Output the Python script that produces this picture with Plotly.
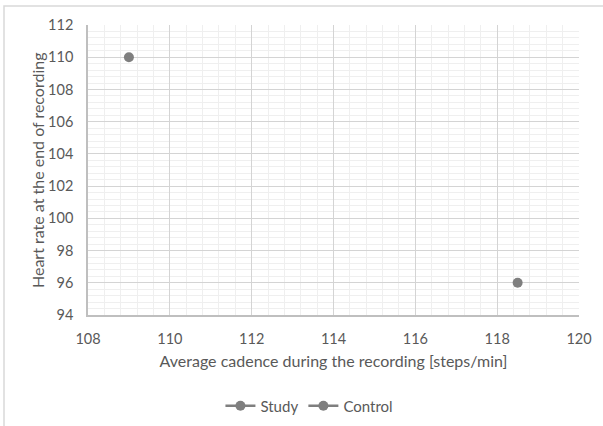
import plotly.graph_objects as go

series_names = ["Study", "Control"]
cadence = [[109.0], [118.5]]
heart_rate = [[110.0], [96.0]]
x_ticks = [108, 110, 112, 114, 116, 118, 120]
y_ticks = [94, 96, 98, 100, 102, 104, 106, 108, 110, 112]
x_title = "Average cadence during the recording [steps/min]"
y_title = "Heart rate at the end of recording"

gray = "#7f7f7f"
text_col = "#595959"
font_family = "Lato, Open Sans, sans-serif"

fig = go.Figure()
for name, xs, ys in zip(series_names, cadence, heart_rate):
    fig.add_trace(go.Scatter(
        x=xs, y=ys, name=name, mode="lines+markers",
        marker=dict(color=gray, size=10),
        line=dict(color=gray, width=2.5),
    ))

fig.update_layout(
    width=603, height=426,
    margin=dict(l=88, r=24, t=25, b=111, autoexpand=False),
    paper_bgcolor="white", plot_bgcolor="white",
    font=dict(family=font_family, size=15, color=text_col),
    showlegend=True,
    legend=dict(orientation="h", x=0.451, xanchor="center", y=-0.314, yanchor="middle",
                font=dict(size=15, color=text_col)),
    xaxis=dict(
        range=[108, 120], tickvals=x_ticks, ticktext=[str(v) for v in x_ticks],
        showgrid=True, gridcolor="#d4d4d4", gridwidth=1,
        minor=dict(dtick=0.4, showgrid=True, gridcolor="#efefef", gridwidth=1),
        showline=True, linecolor="#bfbfbf", linewidth=1.5,
        zeroline=False, ticks="outside", ticklen=10, tickcolor="rgba(0,0,0,0)",
        title=dict(text=x_title, standoff=10, font=dict(size=16, color=text_col)),
        tickfont=dict(size=14.5, color=text_col),
    ),
    yaxis=dict(
        range=[94, 112], tickvals=y_ticks, ticktext=[str(v) for v in y_ticks],
        showgrid=True, gridcolor="#d4d4d4", gridwidth=1,
        minor=dict(dtick=0.4, showgrid=True, gridcolor="#efefef", gridwidth=1),
        showline=True, linecolor="#bfbfbf", linewidth=1.5,
        zeroline=False, ticks="outside", ticklen=10, tickcolor="rgba(0,0,0,0)",
        tickfont=dict(size=14.5, color=text_col),
    ),
)

fig.add_annotation(text=y_title, xref="paper", yref="paper",
                   x=(37 - 88) / 491, y=0.5, xanchor="center", yanchor="middle",
                   textangle=-90, showarrow=False, font=dict(size=16, color=text_col))

# outer chart border (partially cropped in the original)
fig.add_shape(type="rect", xref="paper", yref="paper",
              x0=-84 / 491, x1=1 + 40 / 491, y0=-120 / 290, y1=1 + 19 / 290,
              line=dict(color="#d9d9d9", width=1.5), fillcolor="rgba(0,0,0,0)", layer="below")

fig.write_html("out.html", config={"displayModeBar": False},
               post_script="document.body.style.margin='0';")
